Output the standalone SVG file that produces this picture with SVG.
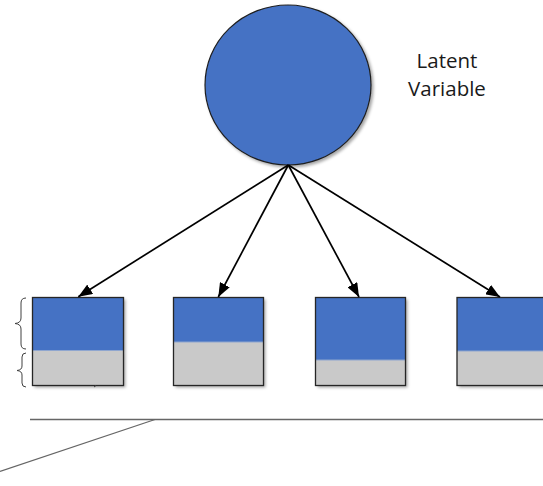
<svg xmlns="http://www.w3.org/2000/svg" width="543" height="486" viewBox="0 0 543 486">
<style>
.blue{fill:#4472c4}
.gray{fill:#c9c9c9}
.frame{fill:none;stroke:#262626;stroke-width:1.3}
.split{stroke:#8fa6cf;stroke-width:1}
.arrow{stroke:#000;stroke-width:1.7;fill:none;marker-end:url(#ah)}
.rule{stroke:#666;stroke-width:1.3;fill:none}
.brace{stroke:#404040;stroke-width:1;fill:none}
.label{font-family:"Open Sans","Liberation Sans",sans-serif;font-size:20.5px;fill:#1a1a1a}
</style>
<defs>
<marker id="ah" viewBox="0 0 14 11" refX="14" refY="5.5" markerWidth="14" markerHeight="11" markerUnits="userSpaceOnUse" orient="auto">
<path d="M0,0 L14,5.5 L0,11 Z" fill="#000"/>
</marker>
<filter id="sh" x="-10%" y="-10%" width="130%" height="130%">
<feDropShadow dx="2" dy="2" stdDeviation="1.5" flood-color="#000" flood-opacity="0.35"/>
</filter>
</defs>
<rect width="543" height="486" fill="#fff"/>
<g id="latent">
<ellipse cx="288" cy="85" rx="83" ry="80" class="blue" stroke="#1f1f1f" stroke-width="1.2" filter="url(#sh)"/>
<text class="label" x="447" y="68" text-anchor="middle">Latent</text>
<text class="label" x="447" y="96" text-anchor="middle">Variable</text>
</g>
<g id="item1">
<g filter="url(#sh)">
<rect x="32.5" y="297.5" width="91" height="53" class="blue"/>
<rect x="32.5" y="350.5" width="91" height="35" class="gray"/>
</g>
<line x1="32.5" y1="350.5" x2="123.5" y2="350.5" class="split"/>
<rect x="32.5" y="297.5" width="91" height="88" class="frame"/>
<path d="M94,387 L96,385.5" stroke="#404040" stroke-width="1"/>
</g>
<g id="item2">
<g filter="url(#sh)">
<rect x="173.5" y="297.5" width="90" height="44.5" class="blue"/>
<rect x="173.5" y="342" width="90" height="43.5" class="gray"/>
</g>
<line x1="173.5" y1="342" x2="263.5" y2="342" class="split"/>
<rect x="173.5" y="297.5" width="90" height="88" class="frame"/>
</g>
<g id="item3">
<g filter="url(#sh)">
<rect x="315.5" y="297.5" width="90" height="62.5" class="blue"/>
<rect x="315.5" y="360" width="90" height="25.5" class="gray"/>
</g>
<line x1="315.5" y1="360" x2="405.5" y2="360" class="split"/>
<rect x="315.5" y="297.5" width="90" height="88" class="frame"/>
</g>
<g id="item4">
<g filter="url(#sh)">
<rect x="457" y="297.5" width="90" height="53.5" class="blue"/>
<rect x="457" y="351" width="90" height="34.5" class="gray"/>
</g>
<line x1="457" y1="351" x2="547" y2="351" class="split"/>
<rect x="457" y="297.5" width="90" height="88" class="frame"/>
</g>
<g id="braces">
<path class="brace" d="M26,298 Q21,298 21,303 L21,318 Q21,323 15,323.5 Q21,324 21,329 L21,344 Q21,349 26,349"/>
<path class="brace" d="M26,353 Q22,353 22,357 L22,366 Q22,370 17,370.5 Q22,371 22,375 L22,383 Q22,387 26,387"/>
</g>
<g id="connectors">
<line class="arrow" x1="288.3" y1="165" x2="78.3" y2="296.7"/>
<line class="arrow" x1="288.3" y1="165" x2="218.3" y2="297"/>
<line class="arrow" x1="288.3" y1="165" x2="359" y2="297"/>
<line class="arrow" x1="288.3" y1="165" x2="500" y2="297"/>
</g>
<g id="rules">
<line class="rule" x1="30" y1="419.5" x2="543" y2="419.5"/>
<line class="rule" x1="155" y1="419.5" x2="0" y2="471.5"/>
</g>
</svg>
